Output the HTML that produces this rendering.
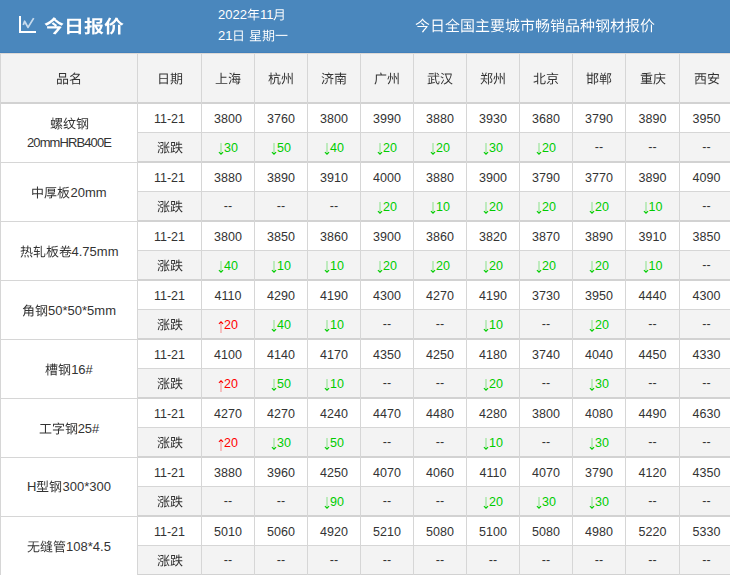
<!DOCTYPE html>
<html><head><meta charset="utf-8"><style>
*{margin:0;padding:0;box-sizing:border-box}
html,body{width:730px;height:575px;overflow:hidden;background:#fff}
body{position:relative;font-family:"Liberation Sans",sans-serif;font-size:13px;color:#333}
.a{position:absolute}
.n{font-size:12.5px;padding-top:2px}
.c{position:absolute;display:flex;align-items:center;justify-content:center;white-space:nowrap;line-height:1}
.hl{position:absolute;height:1px;background:#d6d6d6}
.vl{position:absolute;width:1px;background:#d6d6d6}
.g{color:#00cc00}
.d{padding-bottom:2px}
.ar{display:block;margin-right:0px}
.g .ar{margin-top:2px}
.r .ar{margin-top:3px}
.r{color:#f00}
</style></head><body>

<div class="a" style="left:0;top:0;width:730px;height:53px;background:#4a87bd"></div>
<div class="a" style="left:0;top:52px;width:730px;height:1px;background:#4280bb"></div>
<svg class="a" style="left:15px;top:12px" width="25" height="25" viewBox="0 0 25 25">
<path d="M5 4 V20 H21" fill="none" stroke="#fff" stroke-width="2"/>
<path d="M8.3 13 L9.6 9.3 L13 15.4 L18.7 6.1" fill="none" stroke="#d4e3f2" stroke-width="1.8" stroke-linejoin="round" opacity="0.9"/>
</svg>
<div class="a" style="--gw:20;left:44px;top:16.5px;font-size:18px;letter-spacing:1.7px;font-weight:bold;color:#fff;line-height:18px;white-space:nowrap">今日报价</div>
<div class="a" style="left:218px;top:7px;font-size:13px;color:#fff;line-height:16px;white-space:nowrap">2022年11月</div>
<div class="a" style="left:218px;top:28px;font-size:13px;color:#fff;line-height:16px;white-space:nowrap">21日 星期一</div>
<div class="a" style="left:415px;top:18px;font-size:15px;color:#fff;line-height:16px;white-space:nowrap">今日全国主要城市畅销品种钢材报价</div>
<div class="a" style="left:0;top:53px;width:732px;height:49px;background:#f3f3f3"></div>
<div class="a" style="left:0;top:53px;width:732px;height:1px;background:#dedad6"></div>
<div class="c" style="left:1px;top:54px;width:136px;height:48px">品名</div>
<div class="c" style="left:138px;top:54px;width:63px;height:48px">日期</div>
<div class="c" style="left:202px;top:54px;width:52px;height:48px">上海</div>
<div class="c" style="left:255px;top:54px;width:52px;height:48px">杭州</div>
<div class="c" style="left:308px;top:54px;width:52px;height:48px">济南</div>
<div class="c" style="left:361px;top:54px;width:52px;height:48px">广州</div>
<div class="c" style="left:414px;top:54px;width:52px;height:48px">武汉</div>
<div class="c" style="left:467px;top:54px;width:52px;height:48px">郑州</div>
<div class="c" style="left:520px;top:54px;width:52px;height:48px">北京</div>
<div class="c" style="left:573px;top:54px;width:52px;height:48px">邯郸</div>
<div class="c" style="left:626px;top:54px;width:53px;height:48px">重庆</div>
<div class="c" style="left:680px;top:54px;width:53px;height:48px">西安</div>
<div class="a" style="left:138px;top:133px;width:594px;height:28px;background:#f3f3f3"></div>
<div class="c" style="left:1px;top:104px;width:136px;height:57px;text-align:center;line-height:19px;padding-top:1px"><div>螺纹钢<br><span style="letter-spacing:-0.9px">20mmHRB400E</span></div></div>
<div class="c n" style="left:138px;top:104px;width:63px;height:28px">11-21</div>
<div class="c" style="left:138px;top:133px;width:63px;height:28px">涨跌</div>
<div class="c n" style="left:202px;top:104px;width:52px;height:28px">3800</div>
<div class="c n" style="left:255px;top:104px;width:52px;height:28px">3760</div>
<div class="c n" style="left:308px;top:104px;width:52px;height:28px">3800</div>
<div class="c n" style="left:361px;top:104px;width:52px;height:28px">3990</div>
<div class="c n" style="left:414px;top:104px;width:52px;height:28px">3880</div>
<div class="c n" style="left:467px;top:104px;width:52px;height:28px">3930</div>
<div class="c n" style="left:520px;top:104px;width:52px;height:28px">3680</div>
<div class="c n" style="left:573px;top:104px;width:52px;height:28px">3790</div>
<div class="c n" style="left:626px;top:104px;width:53px;height:28px">3890</div>
<div class="c n" style="left:680px;top:104px;width:53px;height:28px">3950</div>
<div class="c n g" style="left:202px;top:133px;width:52px;height:28px"><svg class="ar" width="6" height="12" viewBox="0 0 6 12"><path d="M3 0V10.8" stroke="currentColor" stroke-width="0.55" fill="none" opacity="0.8"/><path d="M0.9 9.2L3 11.2L5.1 9.2" stroke="currentColor" stroke-width="1.05" fill="none"/></svg>30</div>
<div class="c n g" style="left:255px;top:133px;width:52px;height:28px"><svg class="ar" width="6" height="12" viewBox="0 0 6 12"><path d="M3 0V10.8" stroke="currentColor" stroke-width="0.55" fill="none" opacity="0.8"/><path d="M0.9 9.2L3 11.2L5.1 9.2" stroke="currentColor" stroke-width="1.05" fill="none"/></svg>50</div>
<div class="c n g" style="left:308px;top:133px;width:52px;height:28px"><svg class="ar" width="6" height="12" viewBox="0 0 6 12"><path d="M3 0V10.8" stroke="currentColor" stroke-width="0.55" fill="none" opacity="0.8"/><path d="M0.9 9.2L3 11.2L5.1 9.2" stroke="currentColor" stroke-width="1.05" fill="none"/></svg>40</div>
<div class="c n g" style="left:361px;top:133px;width:52px;height:28px"><svg class="ar" width="6" height="12" viewBox="0 0 6 12"><path d="M3 0V10.8" stroke="currentColor" stroke-width="0.55" fill="none" opacity="0.8"/><path d="M0.9 9.2L3 11.2L5.1 9.2" stroke="currentColor" stroke-width="1.05" fill="none"/></svg>20</div>
<div class="c n g" style="left:414px;top:133px;width:52px;height:28px"><svg class="ar" width="6" height="12" viewBox="0 0 6 12"><path d="M3 0V10.8" stroke="currentColor" stroke-width="0.55" fill="none" opacity="0.8"/><path d="M0.9 9.2L3 11.2L5.1 9.2" stroke="currentColor" stroke-width="1.05" fill="none"/></svg>20</div>
<div class="c n g" style="left:467px;top:133px;width:52px;height:28px"><svg class="ar" width="6" height="12" viewBox="0 0 6 12"><path d="M3 0V10.8" stroke="currentColor" stroke-width="0.55" fill="none" opacity="0.8"/><path d="M0.9 9.2L3 11.2L5.1 9.2" stroke="currentColor" stroke-width="1.05" fill="none"/></svg>30</div>
<div class="c n g" style="left:520px;top:133px;width:52px;height:28px"><svg class="ar" width="6" height="12" viewBox="0 0 6 12"><path d="M3 0V10.8" stroke="currentColor" stroke-width="0.55" fill="none" opacity="0.8"/><path d="M0.9 9.2L3 11.2L5.1 9.2" stroke="currentColor" stroke-width="1.05" fill="none"/></svg>20</div>
<div class="c n d" style="left:573px;top:133px;width:52px;height:28px">--</div>
<div class="c n d" style="left:626px;top:133px;width:53px;height:28px">--</div>
<div class="c n d" style="left:680px;top:133px;width:53px;height:28px">--</div>
<div class="a" style="left:138px;top:192px;width:594px;height:28px;background:#f3f3f3"></div>
<div class="c" style="left:1px;top:164px;width:136px;height:57px">中厚板20mm</div>
<div class="c n" style="left:138px;top:163px;width:63px;height:28px">11-21</div>
<div class="c" style="left:138px;top:192px;width:63px;height:28px">涨跌</div>
<div class="c n" style="left:202px;top:163px;width:52px;height:28px">3880</div>
<div class="c n" style="left:255px;top:163px;width:52px;height:28px">3890</div>
<div class="c n" style="left:308px;top:163px;width:52px;height:28px">3910</div>
<div class="c n" style="left:361px;top:163px;width:52px;height:28px">4000</div>
<div class="c n" style="left:414px;top:163px;width:52px;height:28px">3880</div>
<div class="c n" style="left:467px;top:163px;width:52px;height:28px">3900</div>
<div class="c n" style="left:520px;top:163px;width:52px;height:28px">3790</div>
<div class="c n" style="left:573px;top:163px;width:52px;height:28px">3770</div>
<div class="c n" style="left:626px;top:163px;width:53px;height:28px">3890</div>
<div class="c n" style="left:680px;top:163px;width:53px;height:28px">4090</div>
<div class="c n d" style="left:202px;top:192px;width:52px;height:28px">--</div>
<div class="c n d" style="left:255px;top:192px;width:52px;height:28px">--</div>
<div class="c n d" style="left:308px;top:192px;width:52px;height:28px">--</div>
<div class="c n g" style="left:361px;top:192px;width:52px;height:28px"><svg class="ar" width="6" height="12" viewBox="0 0 6 12"><path d="M3 0V10.8" stroke="currentColor" stroke-width="0.55" fill="none" opacity="0.8"/><path d="M0.9 9.2L3 11.2L5.1 9.2" stroke="currentColor" stroke-width="1.05" fill="none"/></svg>20</div>
<div class="c n g" style="left:414px;top:192px;width:52px;height:28px"><svg class="ar" width="6" height="12" viewBox="0 0 6 12"><path d="M3 0V10.8" stroke="currentColor" stroke-width="0.55" fill="none" opacity="0.8"/><path d="M0.9 9.2L3 11.2L5.1 9.2" stroke="currentColor" stroke-width="1.05" fill="none"/></svg>10</div>
<div class="c n g" style="left:467px;top:192px;width:52px;height:28px"><svg class="ar" width="6" height="12" viewBox="0 0 6 12"><path d="M3 0V10.8" stroke="currentColor" stroke-width="0.55" fill="none" opacity="0.8"/><path d="M0.9 9.2L3 11.2L5.1 9.2" stroke="currentColor" stroke-width="1.05" fill="none"/></svg>20</div>
<div class="c n g" style="left:520px;top:192px;width:52px;height:28px"><svg class="ar" width="6" height="12" viewBox="0 0 6 12"><path d="M3 0V10.8" stroke="currentColor" stroke-width="0.55" fill="none" opacity="0.8"/><path d="M0.9 9.2L3 11.2L5.1 9.2" stroke="currentColor" stroke-width="1.05" fill="none"/></svg>20</div>
<div class="c n g" style="left:573px;top:192px;width:52px;height:28px"><svg class="ar" width="6" height="12" viewBox="0 0 6 12"><path d="M3 0V10.8" stroke="currentColor" stroke-width="0.55" fill="none" opacity="0.8"/><path d="M0.9 9.2L3 11.2L5.1 9.2" stroke="currentColor" stroke-width="1.05" fill="none"/></svg>20</div>
<div class="c n g" style="left:626px;top:192px;width:53px;height:28px"><svg class="ar" width="6" height="12" viewBox="0 0 6 12"><path d="M3 0V10.8" stroke="currentColor" stroke-width="0.55" fill="none" opacity="0.8"/><path d="M0.9 9.2L3 11.2L5.1 9.2" stroke="currentColor" stroke-width="1.05" fill="none"/></svg>10</div>
<div class="c n d" style="left:680px;top:192px;width:53px;height:28px">--</div>
<div class="a" style="left:138px;top:251px;width:594px;height:28px;background:#f3f3f3"></div>
<div class="c" style="left:1px;top:223px;width:136px;height:57px">热轧板卷4.75mm</div>
<div class="c n" style="left:138px;top:222px;width:63px;height:28px">11-21</div>
<div class="c" style="left:138px;top:251px;width:63px;height:28px">涨跌</div>
<div class="c n" style="left:202px;top:222px;width:52px;height:28px">3800</div>
<div class="c n" style="left:255px;top:222px;width:52px;height:28px">3850</div>
<div class="c n" style="left:308px;top:222px;width:52px;height:28px">3860</div>
<div class="c n" style="left:361px;top:222px;width:52px;height:28px">3900</div>
<div class="c n" style="left:414px;top:222px;width:52px;height:28px">3860</div>
<div class="c n" style="left:467px;top:222px;width:52px;height:28px">3820</div>
<div class="c n" style="left:520px;top:222px;width:52px;height:28px">3870</div>
<div class="c n" style="left:573px;top:222px;width:52px;height:28px">3890</div>
<div class="c n" style="left:626px;top:222px;width:53px;height:28px">3910</div>
<div class="c n" style="left:680px;top:222px;width:53px;height:28px">3850</div>
<div class="c n g" style="left:202px;top:251px;width:52px;height:28px"><svg class="ar" width="6" height="12" viewBox="0 0 6 12"><path d="M3 0V10.8" stroke="currentColor" stroke-width="0.55" fill="none" opacity="0.8"/><path d="M0.9 9.2L3 11.2L5.1 9.2" stroke="currentColor" stroke-width="1.05" fill="none"/></svg>40</div>
<div class="c n g" style="left:255px;top:251px;width:52px;height:28px"><svg class="ar" width="6" height="12" viewBox="0 0 6 12"><path d="M3 0V10.8" stroke="currentColor" stroke-width="0.55" fill="none" opacity="0.8"/><path d="M0.9 9.2L3 11.2L5.1 9.2" stroke="currentColor" stroke-width="1.05" fill="none"/></svg>10</div>
<div class="c n g" style="left:308px;top:251px;width:52px;height:28px"><svg class="ar" width="6" height="12" viewBox="0 0 6 12"><path d="M3 0V10.8" stroke="currentColor" stroke-width="0.55" fill="none" opacity="0.8"/><path d="M0.9 9.2L3 11.2L5.1 9.2" stroke="currentColor" stroke-width="1.05" fill="none"/></svg>10</div>
<div class="c n g" style="left:361px;top:251px;width:52px;height:28px"><svg class="ar" width="6" height="12" viewBox="0 0 6 12"><path d="M3 0V10.8" stroke="currentColor" stroke-width="0.55" fill="none" opacity="0.8"/><path d="M0.9 9.2L3 11.2L5.1 9.2" stroke="currentColor" stroke-width="1.05" fill="none"/></svg>20</div>
<div class="c n g" style="left:414px;top:251px;width:52px;height:28px"><svg class="ar" width="6" height="12" viewBox="0 0 6 12"><path d="M3 0V10.8" stroke="currentColor" stroke-width="0.55" fill="none" opacity="0.8"/><path d="M0.9 9.2L3 11.2L5.1 9.2" stroke="currentColor" stroke-width="1.05" fill="none"/></svg>20</div>
<div class="c n g" style="left:467px;top:251px;width:52px;height:28px"><svg class="ar" width="6" height="12" viewBox="0 0 6 12"><path d="M3 0V10.8" stroke="currentColor" stroke-width="0.55" fill="none" opacity="0.8"/><path d="M0.9 9.2L3 11.2L5.1 9.2" stroke="currentColor" stroke-width="1.05" fill="none"/></svg>20</div>
<div class="c n g" style="left:520px;top:251px;width:52px;height:28px"><svg class="ar" width="6" height="12" viewBox="0 0 6 12"><path d="M3 0V10.8" stroke="currentColor" stroke-width="0.55" fill="none" opacity="0.8"/><path d="M0.9 9.2L3 11.2L5.1 9.2" stroke="currentColor" stroke-width="1.05" fill="none"/></svg>20</div>
<div class="c n g" style="left:573px;top:251px;width:52px;height:28px"><svg class="ar" width="6" height="12" viewBox="0 0 6 12"><path d="M3 0V10.8" stroke="currentColor" stroke-width="0.55" fill="none" opacity="0.8"/><path d="M0.9 9.2L3 11.2L5.1 9.2" stroke="currentColor" stroke-width="1.05" fill="none"/></svg>20</div>
<div class="c n g" style="left:626px;top:251px;width:53px;height:28px"><svg class="ar" width="6" height="12" viewBox="0 0 6 12"><path d="M3 0V10.8" stroke="currentColor" stroke-width="0.55" fill="none" opacity="0.8"/><path d="M0.9 9.2L3 11.2L5.1 9.2" stroke="currentColor" stroke-width="1.05" fill="none"/></svg>10</div>
<div class="c n d" style="left:680px;top:251px;width:53px;height:28px">--</div>
<div class="a" style="left:138px;top:310px;width:594px;height:28px;background:#f3f3f3"></div>
<div class="c" style="left:1px;top:282px;width:136px;height:57px">角钢50*50*5mm</div>
<div class="c n" style="left:138px;top:281px;width:63px;height:28px">11-21</div>
<div class="c" style="left:138px;top:310px;width:63px;height:28px">涨跌</div>
<div class="c n" style="left:202px;top:281px;width:52px;height:28px">4110</div>
<div class="c n" style="left:255px;top:281px;width:52px;height:28px">4290</div>
<div class="c n" style="left:308px;top:281px;width:52px;height:28px">4190</div>
<div class="c n" style="left:361px;top:281px;width:52px;height:28px">4300</div>
<div class="c n" style="left:414px;top:281px;width:52px;height:28px">4270</div>
<div class="c n" style="left:467px;top:281px;width:52px;height:28px">4190</div>
<div class="c n" style="left:520px;top:281px;width:52px;height:28px">3730</div>
<div class="c n" style="left:573px;top:281px;width:52px;height:28px">3950</div>
<div class="c n" style="left:626px;top:281px;width:53px;height:28px">4440</div>
<div class="c n" style="left:680px;top:281px;width:53px;height:28px">4300</div>
<div class="c n r" style="left:202px;top:310px;width:52px;height:28px"><svg class="ar" width="6" height="12" viewBox="0 0 6 12"><path d="M3 1.2V12" stroke="currentColor" stroke-width="0.55" fill="none" opacity="0.8"/><path d="M0.9 2.8L3 0.8L5.1 2.8" stroke="currentColor" stroke-width="1.05" fill="none"/></svg>20</div>
<div class="c n g" style="left:255px;top:310px;width:52px;height:28px"><svg class="ar" width="6" height="12" viewBox="0 0 6 12"><path d="M3 0V10.8" stroke="currentColor" stroke-width="0.55" fill="none" opacity="0.8"/><path d="M0.9 9.2L3 11.2L5.1 9.2" stroke="currentColor" stroke-width="1.05" fill="none"/></svg>40</div>
<div class="c n g" style="left:308px;top:310px;width:52px;height:28px"><svg class="ar" width="6" height="12" viewBox="0 0 6 12"><path d="M3 0V10.8" stroke="currentColor" stroke-width="0.55" fill="none" opacity="0.8"/><path d="M0.9 9.2L3 11.2L5.1 9.2" stroke="currentColor" stroke-width="1.05" fill="none"/></svg>10</div>
<div class="c n d" style="left:361px;top:310px;width:52px;height:28px">--</div>
<div class="c n d" style="left:414px;top:310px;width:52px;height:28px">--</div>
<div class="c n g" style="left:467px;top:310px;width:52px;height:28px"><svg class="ar" width="6" height="12" viewBox="0 0 6 12"><path d="M3 0V10.8" stroke="currentColor" stroke-width="0.55" fill="none" opacity="0.8"/><path d="M0.9 9.2L3 11.2L5.1 9.2" stroke="currentColor" stroke-width="1.05" fill="none"/></svg>10</div>
<div class="c n d" style="left:520px;top:310px;width:52px;height:28px">--</div>
<div class="c n g" style="left:573px;top:310px;width:52px;height:28px"><svg class="ar" width="6" height="12" viewBox="0 0 6 12"><path d="M3 0V10.8" stroke="currentColor" stroke-width="0.55" fill="none" opacity="0.8"/><path d="M0.9 9.2L3 11.2L5.1 9.2" stroke="currentColor" stroke-width="1.05" fill="none"/></svg>20</div>
<div class="c n d" style="left:626px;top:310px;width:53px;height:28px">--</div>
<div class="c n d" style="left:680px;top:310px;width:53px;height:28px">--</div>
<div class="a" style="left:138px;top:369px;width:594px;height:28px;background:#f3f3f3"></div>
<div class="c" style="left:1px;top:341px;width:136px;height:57px">槽钢16#</div>
<div class="c n" style="left:138px;top:340px;width:63px;height:28px">11-21</div>
<div class="c" style="left:138px;top:369px;width:63px;height:28px">涨跌</div>
<div class="c n" style="left:202px;top:340px;width:52px;height:28px">4100</div>
<div class="c n" style="left:255px;top:340px;width:52px;height:28px">4140</div>
<div class="c n" style="left:308px;top:340px;width:52px;height:28px">4170</div>
<div class="c n" style="left:361px;top:340px;width:52px;height:28px">4350</div>
<div class="c n" style="left:414px;top:340px;width:52px;height:28px">4250</div>
<div class="c n" style="left:467px;top:340px;width:52px;height:28px">4180</div>
<div class="c n" style="left:520px;top:340px;width:52px;height:28px">3740</div>
<div class="c n" style="left:573px;top:340px;width:52px;height:28px">4040</div>
<div class="c n" style="left:626px;top:340px;width:53px;height:28px">4450</div>
<div class="c n" style="left:680px;top:340px;width:53px;height:28px">4330</div>
<div class="c n r" style="left:202px;top:369px;width:52px;height:28px"><svg class="ar" width="6" height="12" viewBox="0 0 6 12"><path d="M3 1.2V12" stroke="currentColor" stroke-width="0.55" fill="none" opacity="0.8"/><path d="M0.9 2.8L3 0.8L5.1 2.8" stroke="currentColor" stroke-width="1.05" fill="none"/></svg>20</div>
<div class="c n g" style="left:255px;top:369px;width:52px;height:28px"><svg class="ar" width="6" height="12" viewBox="0 0 6 12"><path d="M3 0V10.8" stroke="currentColor" stroke-width="0.55" fill="none" opacity="0.8"/><path d="M0.9 9.2L3 11.2L5.1 9.2" stroke="currentColor" stroke-width="1.05" fill="none"/></svg>50</div>
<div class="c n g" style="left:308px;top:369px;width:52px;height:28px"><svg class="ar" width="6" height="12" viewBox="0 0 6 12"><path d="M3 0V10.8" stroke="currentColor" stroke-width="0.55" fill="none" opacity="0.8"/><path d="M0.9 9.2L3 11.2L5.1 9.2" stroke="currentColor" stroke-width="1.05" fill="none"/></svg>10</div>
<div class="c n d" style="left:361px;top:369px;width:52px;height:28px">--</div>
<div class="c n d" style="left:414px;top:369px;width:52px;height:28px">--</div>
<div class="c n g" style="left:467px;top:369px;width:52px;height:28px"><svg class="ar" width="6" height="12" viewBox="0 0 6 12"><path d="M3 0V10.8" stroke="currentColor" stroke-width="0.55" fill="none" opacity="0.8"/><path d="M0.9 9.2L3 11.2L5.1 9.2" stroke="currentColor" stroke-width="1.05" fill="none"/></svg>20</div>
<div class="c n d" style="left:520px;top:369px;width:52px;height:28px">--</div>
<div class="c n g" style="left:573px;top:369px;width:52px;height:28px"><svg class="ar" width="6" height="12" viewBox="0 0 6 12"><path d="M3 0V10.8" stroke="currentColor" stroke-width="0.55" fill="none" opacity="0.8"/><path d="M0.9 9.2L3 11.2L5.1 9.2" stroke="currentColor" stroke-width="1.05" fill="none"/></svg>30</div>
<div class="c n d" style="left:626px;top:369px;width:53px;height:28px">--</div>
<div class="c n d" style="left:680px;top:369px;width:53px;height:28px">--</div>
<div class="a" style="left:138px;top:428px;width:594px;height:28px;background:#f3f3f3"></div>
<div class="c" style="left:1px;top:400px;width:136px;height:57px">工字钢25#</div>
<div class="c n" style="left:138px;top:399px;width:63px;height:28px">11-21</div>
<div class="c" style="left:138px;top:428px;width:63px;height:28px">涨跌</div>
<div class="c n" style="left:202px;top:399px;width:52px;height:28px">4270</div>
<div class="c n" style="left:255px;top:399px;width:52px;height:28px">4270</div>
<div class="c n" style="left:308px;top:399px;width:52px;height:28px">4240</div>
<div class="c n" style="left:361px;top:399px;width:52px;height:28px">4470</div>
<div class="c n" style="left:414px;top:399px;width:52px;height:28px">4480</div>
<div class="c n" style="left:467px;top:399px;width:52px;height:28px">4280</div>
<div class="c n" style="left:520px;top:399px;width:52px;height:28px">3800</div>
<div class="c n" style="left:573px;top:399px;width:52px;height:28px">4080</div>
<div class="c n" style="left:626px;top:399px;width:53px;height:28px">4490</div>
<div class="c n" style="left:680px;top:399px;width:53px;height:28px">4630</div>
<div class="c n r" style="left:202px;top:428px;width:52px;height:28px"><svg class="ar" width="6" height="12" viewBox="0 0 6 12"><path d="M3 1.2V12" stroke="currentColor" stroke-width="0.55" fill="none" opacity="0.8"/><path d="M0.9 2.8L3 0.8L5.1 2.8" stroke="currentColor" stroke-width="1.05" fill="none"/></svg>20</div>
<div class="c n g" style="left:255px;top:428px;width:52px;height:28px"><svg class="ar" width="6" height="12" viewBox="0 0 6 12"><path d="M3 0V10.8" stroke="currentColor" stroke-width="0.55" fill="none" opacity="0.8"/><path d="M0.9 9.2L3 11.2L5.1 9.2" stroke="currentColor" stroke-width="1.05" fill="none"/></svg>30</div>
<div class="c n g" style="left:308px;top:428px;width:52px;height:28px"><svg class="ar" width="6" height="12" viewBox="0 0 6 12"><path d="M3 0V10.8" stroke="currentColor" stroke-width="0.55" fill="none" opacity="0.8"/><path d="M0.9 9.2L3 11.2L5.1 9.2" stroke="currentColor" stroke-width="1.05" fill="none"/></svg>50</div>
<div class="c n d" style="left:361px;top:428px;width:52px;height:28px">--</div>
<div class="c n d" style="left:414px;top:428px;width:52px;height:28px">--</div>
<div class="c n g" style="left:467px;top:428px;width:52px;height:28px"><svg class="ar" width="6" height="12" viewBox="0 0 6 12"><path d="M3 0V10.8" stroke="currentColor" stroke-width="0.55" fill="none" opacity="0.8"/><path d="M0.9 9.2L3 11.2L5.1 9.2" stroke="currentColor" stroke-width="1.05" fill="none"/></svg>10</div>
<div class="c n d" style="left:520px;top:428px;width:52px;height:28px">--</div>
<div class="c n g" style="left:573px;top:428px;width:52px;height:28px"><svg class="ar" width="6" height="12" viewBox="0 0 6 12"><path d="M3 0V10.8" stroke="currentColor" stroke-width="0.55" fill="none" opacity="0.8"/><path d="M0.9 9.2L3 11.2L5.1 9.2" stroke="currentColor" stroke-width="1.05" fill="none"/></svg>30</div>
<div class="c n d" style="left:626px;top:428px;width:53px;height:28px">--</div>
<div class="c n d" style="left:680px;top:428px;width:53px;height:28px">--</div>
<div class="a" style="left:138px;top:487px;width:594px;height:28px;background:#f3f3f3"></div>
<div class="c" style="left:1px;top:458px;width:136px;height:57px">H型钢300*300</div>
<div class="c n" style="left:138px;top:458px;width:63px;height:28px">11-21</div>
<div class="c" style="left:138px;top:487px;width:63px;height:28px">涨跌</div>
<div class="c n" style="left:202px;top:458px;width:52px;height:28px">3880</div>
<div class="c n" style="left:255px;top:458px;width:52px;height:28px">3960</div>
<div class="c n" style="left:308px;top:458px;width:52px;height:28px">4250</div>
<div class="c n" style="left:361px;top:458px;width:52px;height:28px">4070</div>
<div class="c n" style="left:414px;top:458px;width:52px;height:28px">4060</div>
<div class="c n" style="left:467px;top:458px;width:52px;height:28px">4110</div>
<div class="c n" style="left:520px;top:458px;width:52px;height:28px">4070</div>
<div class="c n" style="left:573px;top:458px;width:52px;height:28px">3790</div>
<div class="c n" style="left:626px;top:458px;width:53px;height:28px">4120</div>
<div class="c n" style="left:680px;top:458px;width:53px;height:28px">4350</div>
<div class="c n d" style="left:202px;top:487px;width:52px;height:28px">--</div>
<div class="c n d" style="left:255px;top:487px;width:52px;height:28px">--</div>
<div class="c n g" style="left:308px;top:487px;width:52px;height:28px"><svg class="ar" width="6" height="12" viewBox="0 0 6 12"><path d="M3 0V10.8" stroke="currentColor" stroke-width="0.55" fill="none" opacity="0.8"/><path d="M0.9 9.2L3 11.2L5.1 9.2" stroke="currentColor" stroke-width="1.05" fill="none"/></svg>90</div>
<div class="c n d" style="left:361px;top:487px;width:52px;height:28px">--</div>
<div class="c n d" style="left:414px;top:487px;width:52px;height:28px">--</div>
<div class="c n g" style="left:467px;top:487px;width:52px;height:28px"><svg class="ar" width="6" height="12" viewBox="0 0 6 12"><path d="M3 0V10.8" stroke="currentColor" stroke-width="0.55" fill="none" opacity="0.8"/><path d="M0.9 9.2L3 11.2L5.1 9.2" stroke="currentColor" stroke-width="1.05" fill="none"/></svg>20</div>
<div class="c n g" style="left:520px;top:487px;width:52px;height:28px"><svg class="ar" width="6" height="12" viewBox="0 0 6 12"><path d="M3 0V10.8" stroke="currentColor" stroke-width="0.55" fill="none" opacity="0.8"/><path d="M0.9 9.2L3 11.2L5.1 9.2" stroke="currentColor" stroke-width="1.05" fill="none"/></svg>30</div>
<div class="c n g" style="left:573px;top:487px;width:52px;height:28px"><svg class="ar" width="6" height="12" viewBox="0 0 6 12"><path d="M3 0V10.8" stroke="currentColor" stroke-width="0.55" fill="none" opacity="0.8"/><path d="M0.9 9.2L3 11.2L5.1 9.2" stroke="currentColor" stroke-width="1.05" fill="none"/></svg>30</div>
<div class="c n d" style="left:626px;top:487px;width:53px;height:28px">--</div>
<div class="c n d" style="left:680px;top:487px;width:53px;height:28px">--</div>
<div class="a" style="left:138px;top:546px;width:594px;height:28px;background:#f3f3f3"></div>
<div class="c" style="left:1px;top:518px;width:136px;height:57px">无缝管108*4.5</div>
<div class="c n" style="left:138px;top:517px;width:63px;height:28px">11-21</div>
<div class="c" style="left:138px;top:546px;width:63px;height:28px">涨跌</div>
<div class="c n" style="left:202px;top:517px;width:52px;height:28px">5010</div>
<div class="c n" style="left:255px;top:517px;width:52px;height:28px">5060</div>
<div class="c n" style="left:308px;top:517px;width:52px;height:28px">4920</div>
<div class="c n" style="left:361px;top:517px;width:52px;height:28px">5210</div>
<div class="c n" style="left:414px;top:517px;width:52px;height:28px">5080</div>
<div class="c n" style="left:467px;top:517px;width:52px;height:28px">5100</div>
<div class="c n" style="left:520px;top:517px;width:52px;height:28px">5080</div>
<div class="c n" style="left:573px;top:517px;width:52px;height:28px">4980</div>
<div class="c n" style="left:626px;top:517px;width:53px;height:28px">5220</div>
<div class="c n" style="left:680px;top:517px;width:53px;height:28px">5330</div>
<div class="c n d" style="left:202px;top:546px;width:52px;height:28px">--</div>
<div class="c n d" style="left:255px;top:546px;width:52px;height:28px">--</div>
<div class="c n d" style="left:308px;top:546px;width:52px;height:28px">--</div>
<div class="c n d" style="left:361px;top:546px;width:52px;height:28px">--</div>
<div class="c n d" style="left:414px;top:546px;width:52px;height:28px">--</div>
<div class="c n d" style="left:467px;top:546px;width:52px;height:28px">--</div>
<div class="c n d" style="left:520px;top:546px;width:52px;height:28px">--</div>
<div class="c n d" style="left:573px;top:546px;width:52px;height:28px">--</div>
<div class="c n d" style="left:626px;top:546px;width:53px;height:28px">--</div>
<div class="c n d" style="left:680px;top:546px;width:53px;height:28px">--</div>
<div class="hl" style="left:0;top:102px;width:732px;height:2px;background:#d2d2d2"></div>
<div class="hl" style="left:138px;top:132px;width:594px"></div>
<div class="hl" style="left:138px;top:161px;width:594px;height:2px;background:#d2d2d2"></div>
<div class="hl" style="left:0;top:162px;width:138px"></div>
<div class="hl" style="left:138px;top:191px;width:594px"></div>
<div class="hl" style="left:138px;top:220px;width:594px;height:2px;background:#d2d2d2"></div>
<div class="hl" style="left:0;top:221px;width:138px"></div>
<div class="hl" style="left:138px;top:250px;width:594px"></div>
<div class="hl" style="left:138px;top:279px;width:594px;height:2px;background:#d2d2d2"></div>
<div class="hl" style="left:0;top:280px;width:138px"></div>
<div class="hl" style="left:138px;top:309px;width:594px"></div>
<div class="hl" style="left:138px;top:338px;width:594px;height:2px;background:#d2d2d2"></div>
<div class="hl" style="left:0;top:339px;width:138px"></div>
<div class="hl" style="left:138px;top:368px;width:594px"></div>
<div class="hl" style="left:138px;top:397px;width:594px;height:2px;background:#d2d2d2"></div>
<div class="hl" style="left:0;top:398px;width:138px"></div>
<div class="hl" style="left:138px;top:427px;width:594px"></div>
<div class="hl" style="left:138px;top:456px;width:594px;height:2px;background:#d2d2d2"></div>
<div class="hl" style="left:0;top:457px;width:138px"></div>
<div class="hl" style="left:138px;top:486px;width:594px"></div>
<div class="hl" style="left:138px;top:515px;width:594px;height:2px;background:#d2d2d2"></div>
<div class="hl" style="left:0;top:516px;width:138px"></div>
<div class="hl" style="left:138px;top:545px;width:594px"></div>
<div class="hl" style="left:138px;top:574px;width:594px;height:2px;background:#d2d2d2"></div>
<div class="vl" style="left:0px;top:54px;height:521px"></div>
<div class="vl" style="left:137px;top:54px;height:521px"></div>
<div class="vl" style="left:201px;top:54px;height:521px"></div>
<div class="vl" style="left:254px;top:54px;height:521px"></div>
<div class="vl" style="left:307px;top:54px;height:521px"></div>
<div class="vl" style="left:360px;top:54px;height:521px"></div>
<div class="vl" style="left:413px;top:54px;height:521px"></div>
<div class="vl" style="left:466px;top:54px;height:521px"></div>
<div class="vl" style="left:519px;top:54px;height:521px"></div>
<div class="vl" style="left:572px;top:54px;height:521px"></div>
<div class="vl" style="left:625px;top:54px;height:521px"></div>
<div class="vl" style="left:679px;top:54px;height:521px"></div>
<script>
var G={"r":{"一":"M44 -431V-349H960V-431Z","上":"M427 -825V-43H51V32H950V-43H506V-441H881V-516H506V-825Z","中":"M458 -840V-661H96V-186H171V-248H458V79H537V-248H825V-191H902V-661H537V-840ZM171 -322V-588H458V-322ZM825 -322H537V-588H825Z","主":"M374 -795C435 -750 505 -686 545 -640H103V-567H459V-347H149V-274H459V-27H56V46H948V-27H540V-274H856V-347H540V-567H897V-640H572L620 -675C580 -722 499 -790 435 -836Z","京":"M262 -495H743V-334H262ZM685 -167C751 -100 832 -5 869 52L934 8C894 -49 811 -139 746 -205ZM235 -204C196 -136 119 -52 52 2C68 13 94 34 107 49C178 -10 257 -99 308 -177ZM415 -824C436 -791 459 -751 476 -716H65V-642H937V-716H564C547 -753 514 -808 487 -848ZM188 -561V-267H464V-8C464 6 460 10 441 11C423 11 361 12 292 10C303 31 313 60 318 81C406 82 463 82 498 70C533 59 543 38 543 -7V-267H822V-561Z","今":"M390 -533C456 -484 541 -412 580 -367L635 -420C593 -464 506 -532 441 -579ZM161 -348V-272H722C650 -179 547 -51 461 48L538 83C644 -46 776 -212 859 -324L801 -352L787 -348ZM495 -847C394 -695 216 -556 35 -475C57 -457 80 -429 92 -408C244 -485 394 -599 503 -729C612 -605 774 -481 906 -415C920 -435 945 -466 965 -482C823 -544 649 -668 548 -786L567 -813Z","价":"M723 -451V78H800V-451ZM440 -450V-313C440 -218 429 -65 284 36C302 48 327 71 339 88C497 -30 515 -197 515 -312V-450ZM597 -842C547 -715 435 -565 257 -464C274 -451 295 -423 304 -406C447 -490 549 -602 618 -716C697 -596 810 -483 918 -419C930 -438 953 -465 970 -479C853 -541 727 -663 655 -784L676 -829ZM268 -839C216 -688 130 -538 37 -440C51 -423 73 -384 81 -366C110 -398 139 -435 166 -475V80H241V-599C279 -669 313 -744 340 -818Z","全":"M493 -851C392 -692 209 -545 26 -462C45 -446 67 -421 78 -401C118 -421 158 -444 197 -469V-404H461V-248H203V-181H461V-16H76V52H929V-16H539V-181H809V-248H539V-404H809V-470C847 -444 885 -420 925 -397C936 -419 958 -445 977 -460C814 -546 666 -650 542 -794L559 -820ZM200 -471C313 -544 418 -637 500 -739C595 -630 696 -546 807 -471Z","北":"M34 -122 68 -48C141 -78 232 -116 322 -155V71H398V-822H322V-586H64V-511H322V-230C214 -189 107 -147 34 -122ZM891 -668C830 -611 736 -544 643 -488V-821H565V-80C565 27 593 57 687 57C707 57 827 57 848 57C946 57 966 -8 974 -190C953 -195 922 -210 903 -226C896 -60 889 -16 842 -16C816 -16 716 -16 695 -16C651 -16 643 -26 643 -79V-410C749 -469 863 -537 947 -602Z","南":"M317 -460C342 -423 368 -373 377 -339L440 -361C429 -394 403 -444 376 -479ZM458 -840V-740H60V-669H458V-563H114V79H190V-494H812V-8C812 8 807 13 789 14C772 15 710 16 647 13C658 32 669 60 673 80C755 80 812 80 845 68C878 57 888 37 888 -8V-563H541V-669H941V-740H541V-840ZM622 -481C607 -440 576 -379 553 -338H266V-277H461V-176H245V-113H461V61H533V-113H758V-176H533V-277H740V-338H618C641 -374 665 -418 687 -461Z","卷":"M301 -324H281C318 -356 352 -391 381 -427H609C635 -390 666 -355 702 -324ZM732 -815C710 -773 672 -711 639 -669H517C537 -724 551 -780 560 -835L482 -843C474 -786 459 -727 437 -669H311L357 -696C340 -730 301 -781 268 -818L210 -786C240 -751 274 -703 291 -669H124V-603H407C389 -566 366 -530 340 -495H62V-427H282C217 -360 135 -301 34 -257C51 -243 73 -215 81 -196C147 -227 205 -263 256 -303V-44C256 46 293 67 421 67C449 67 670 67 700 67C811 67 837 34 848 -97C828 -102 797 -113 779 -125C772 -18 762 -1 697 -1C647 -1 459 -1 422 -1C343 -1 329 -8 329 -45V-258H631C625 -194 618 -165 608 -155C600 -149 592 -148 574 -148C558 -148 508 -148 457 -152C468 -136 474 -111 476 -93C530 -90 582 -90 608 -91C635 -93 654 -98 670 -114C690 -134 699 -183 707 -295L709 -318C772 -264 847 -221 925 -194C936 -214 958 -242 975 -257C865 -287 763 -350 694 -427H941V-495H431C453 -530 473 -566 490 -603H872V-669H715C744 -706 775 -750 801 -792Z","厚":"M368 -500H771V-434H368ZM368 -614H771V-549H368ZM296 -665V-382H844V-665ZM542 -211V-161H212V-101H542V-5C542 8 538 12 521 13C505 14 445 14 381 12C391 30 402 54 407 74C489 74 541 74 573 64C605 54 615 36 615 -3V-101H956V-161H615V-181C701 -207 792 -246 858 -289L812 -329L796 -325H293V-270H703C654 -247 595 -225 542 -211ZM132 -788V-493C132 -336 123 -116 34 40C53 47 85 66 99 78C192 -85 206 -327 206 -493V-718H943V-788Z","名":"M263 -529C314 -494 373 -446 417 -406C300 -344 171 -299 47 -273C61 -256 79 -224 86 -204C141 -217 197 -233 252 -253V79H327V27H773V79H849V-340H451C617 -429 762 -553 844 -713L794 -744L781 -740H427C451 -768 473 -797 492 -826L406 -843C347 -747 233 -636 69 -559C87 -546 111 -519 122 -501C217 -550 296 -609 361 -671H733C674 -583 587 -508 487 -445C440 -486 374 -536 321 -572ZM773 -42H327V-271H773Z","品":"M302 -726H701V-536H302ZM229 -797V-464H778V-797ZM83 -357V80H155V26H364V71H439V-357ZM155 -47V-286H364V-47ZM549 -357V80H621V26H849V74H925V-357ZM621 -47V-286H849V-47Z","国":"M592 -320C629 -286 671 -238 691 -206L743 -237C722 -268 679 -315 641 -347ZM228 -196V-132H777V-196H530V-365H732V-430H530V-573H756V-640H242V-573H459V-430H270V-365H459V-196ZM86 -795V80H162V30H835V80H914V-795ZM162 -40V-725H835V-40Z","型":"M635 -783V-448H704V-783ZM822 -834V-387C822 -374 818 -370 802 -369C787 -368 737 -368 680 -370C691 -350 701 -321 705 -301C776 -301 825 -302 855 -314C885 -325 893 -344 893 -386V-834ZM388 -733V-595H264V-601V-733ZM67 -595V-528H189C178 -461 145 -393 59 -340C73 -330 98 -302 108 -288C210 -351 248 -441 259 -528H388V-313H459V-528H573V-595H459V-733H552V-799H100V-733H195V-602V-595ZM467 -332V-221H151V-152H467V-25H47V45H952V-25H544V-152H848V-221H544V-332Z","城":"M41 -129 65 -55C145 -86 244 -125 340 -164L326 -232L229 -196V-526H325V-596H229V-828H159V-596H53V-526H159V-170C115 -154 74 -140 41 -129ZM866 -506C844 -414 814 -329 775 -255C759 -354 747 -478 742 -617H953V-687H880L930 -722C905 -754 853 -802 809 -834L759 -801C801 -768 850 -720 874 -687H740C739 -737 739 -788 739 -841H667L670 -687H366V-375C366 -245 356 -80 256 36C272 45 300 69 311 83C420 -42 436 -233 436 -375V-419H562C560 -238 556 -174 546 -158C540 -150 532 -148 520 -148C507 -148 476 -148 442 -151C452 -135 458 -107 460 -88C495 -86 530 -86 550 -88C574 -91 588 -98 602 -115C620 -141 624 -222 627 -453C628 -462 628 -482 628 -482H436V-617H672C680 -443 694 -285 721 -165C667 -89 601 -25 521 24C537 36 564 63 575 76C639 33 695 -20 743 -81C774 14 816 70 872 70C937 70 959 23 970 -128C953 -135 929 -150 914 -166C910 -51 901 -2 881 -2C848 -2 818 -57 795 -153C856 -249 902 -362 935 -493Z","字":"M460 -363V-300H69V-228H460V-14C460 0 455 5 437 6C419 6 354 6 287 4C300 24 314 58 319 79C404 79 457 78 492 67C528 54 539 32 539 -12V-228H930V-300H539V-337C627 -384 717 -452 779 -516L728 -555L711 -551H233V-480H635C584 -436 519 -392 460 -363ZM424 -824C443 -798 462 -765 475 -736H80V-529H154V-664H843V-529H920V-736H563C549 -769 523 -814 497 -847Z","安":"M414 -823C430 -793 447 -756 461 -725H93V-522H168V-654H829V-522H908V-725H549C534 -758 510 -806 491 -842ZM656 -378C625 -297 581 -232 524 -178C452 -207 379 -233 310 -256C335 -292 362 -334 389 -378ZM299 -378C263 -320 225 -266 193 -223C276 -195 367 -162 456 -125C359 -60 234 -18 82 9C98 25 121 59 130 77C293 42 429 -10 536 -91C662 -36 778 23 852 73L914 8C837 -41 723 -96 599 -148C660 -209 707 -285 742 -378H935V-449H430C457 -499 482 -549 502 -596L421 -612C401 -561 372 -505 341 -449H69V-378Z","州":"M236 -823V-513C236 -329 219 -129 56 21C73 34 99 61 110 78C290 -86 311 -307 311 -513V-823ZM522 -801V11H596V-801ZM820 -826V68H895V-826ZM124 -593C108 -506 75 -398 29 -329L94 -301C139 -371 169 -486 188 -575ZM335 -554C370 -472 402 -365 411 -300L477 -328C467 -392 433 -496 397 -577ZM618 -558C664 -479 710 -373 727 -308L790 -341C773 -406 724 -509 676 -586Z","工":"M52 -72V3H951V-72H539V-650H900V-727H104V-650H456V-72Z","市":"M413 -825C437 -785 464 -732 480 -693H51V-620H458V-484H148V-36H223V-411H458V78H535V-411H785V-132C785 -118 780 -113 762 -112C745 -111 684 -111 616 -114C627 -92 639 -62 642 -40C728 -40 784 -40 819 -53C852 -65 862 -88 862 -131V-484H535V-620H951V-693H550L565 -698C550 -738 515 -801 486 -848Z","年":"M48 -223V-151H512V80H589V-151H954V-223H589V-422H884V-493H589V-647H907V-719H307C324 -753 339 -788 353 -824L277 -844C229 -708 146 -578 50 -496C69 -485 101 -460 115 -448C169 -500 222 -569 268 -647H512V-493H213V-223ZM288 -223V-422H512V-223Z","广":"M469 -825C486 -783 507 -728 517 -688H143V-401C143 -266 133 -90 39 36C56 46 88 75 100 90C205 -46 222 -253 222 -401V-615H942V-688H565L601 -697C590 -735 567 -795 546 -841Z","庆":"M457 -815C481 -785 504 -749 521 -716H116V-446C116 -304 109 -104 28 36C46 44 80 65 93 78C178 -71 191 -294 191 -446V-644H952V-716H606C589 -755 556 -804 524 -842ZM546 -612C542 -560 538 -505 530 -448H247V-378H518C484 -221 406 -67 205 19C224 33 246 60 256 77C437 -6 525 -140 571 -286C650 -128 768 3 908 74C921 53 945 24 963 8C807 -60 676 -209 607 -378H933V-448H607C615 -504 620 -559 624 -612Z","报":"M423 -806V78H498V-395H528C566 -290 618 -193 683 -111C633 -55 573 -8 503 27C521 41 543 65 554 82C622 46 681 -1 732 -56C785 0 845 45 911 77C923 58 946 28 963 14C896 -15 834 -59 780 -113C852 -210 902 -326 928 -450L879 -466L865 -464H498V-736H817C813 -646 807 -607 795 -594C786 -587 775 -586 753 -586C733 -586 668 -587 602 -592C613 -575 622 -549 623 -530C690 -526 753 -525 785 -527C818 -529 840 -535 858 -553C880 -576 889 -633 895 -774C896 -785 896 -806 896 -806ZM599 -395H838C815 -315 779 -237 730 -169C675 -236 631 -313 599 -395ZM189 -840V-638H47V-565H189V-352L32 -311L52 -234L189 -274V-13C189 4 183 8 166 9C152 9 100 10 44 8C55 29 65 60 68 80C148 80 195 78 224 66C253 54 265 33 265 -14V-297L386 -333L377 -405L265 -373V-565H379V-638H265V-840Z","无":"M114 -773V-699H446C443 -628 440 -552 428 -477H52V-404H414C373 -232 276 -71 39 19C58 34 80 61 90 80C348 -23 448 -208 490 -404H511V-60C511 31 539 57 643 57C664 57 807 57 830 57C926 57 950 15 960 -145C938 -150 905 -163 887 -177C882 -40 874 -17 825 -17C794 -17 674 -17 650 -17C599 -17 589 -24 589 -60V-404H951V-477H503C514 -552 519 -627 521 -699H894V-773Z","日":"M253 -352H752V-71H253ZM253 -426V-697H752V-426ZM176 -772V69H253V4H752V64H832V-772Z","星":"M242 -594H758V-504H242ZM242 -739H758V-651H242ZM169 -799V-444H835V-799ZM233 -443C193 -355 123 -268 50 -212C68 -201 99 -179 113 -165C148 -195 184 -234 217 -277H462V-182H182V-121H462V-12H65V54H937V-12H540V-121H832V-182H540V-277H874V-341H540V-422H462V-341H262C279 -367 294 -395 307 -422Z","月":"M207 -787V-479C207 -318 191 -115 29 27C46 37 75 65 86 81C184 -5 234 -118 259 -232H742V-32C742 -10 735 -3 711 -2C688 -1 607 0 524 -3C537 18 551 53 556 76C663 76 730 75 769 61C806 48 821 23 821 -31V-787ZM283 -714H742V-546H283ZM283 -475H742V-305H272C280 -364 283 -422 283 -475Z","期":"M178 -143C148 -76 95 -9 39 36C57 47 87 68 101 80C155 30 213 -47 249 -123ZM321 -112C360 -65 406 1 424 42L486 6C465 -35 419 -97 379 -143ZM855 -722V-561H650V-722ZM580 -790V-427C580 -283 572 -92 488 41C505 49 536 71 548 84C608 -11 634 -139 644 -260H855V-17C855 -1 849 3 835 4C820 5 769 5 716 3C726 23 737 56 740 76C813 76 861 75 889 62C918 50 927 27 927 -16V-790ZM855 -494V-328H648C650 -363 650 -396 650 -427V-494ZM387 -828V-707H205V-828H137V-707H52V-640H137V-231H38V-164H531V-231H457V-640H531V-707H457V-828ZM205 -640H387V-551H205ZM205 -491H387V-393H205ZM205 -332H387V-231H205Z","材":"M777 -839V-625H477V-553H752C676 -395 545 -227 419 -141C437 -126 460 -99 472 -79C583 -164 697 -306 777 -449V-22C777 -4 770 2 752 2C733 3 668 4 604 2C614 23 626 58 630 79C716 79 775 77 808 64C842 52 855 30 855 -23V-553H959V-625H855V-839ZM227 -840V-626H60V-553H217C178 -414 102 -259 26 -175C39 -156 59 -125 68 -103C127 -173 184 -287 227 -405V79H302V-437C344 -383 396 -312 418 -275L466 -339C441 -370 338 -490 302 -527V-553H440V-626H302V-840Z","杭":"M402 -663V-592H948V-663ZM560 -827C586 -779 615 -714 629 -672L702 -698C687 -738 657 -801 629 -849ZM199 -842V-629H52V-558H192C160 -427 96 -278 32 -201C45 -182 63 -151 70 -130C118 -193 164 -297 199 -405V77H268V-421C302 -368 341 -302 359 -266L405 -329C385 -360 297 -484 268 -519V-558H372V-629H268V-842ZM479 -491V-307C479 -198 460 -65 315 30C330 41 356 71 365 87C523 -17 553 -179 553 -306V-421H741V-49C741 21 747 38 762 52C777 66 801 72 821 72C833 72 860 72 874 72C894 72 915 68 928 59C942 49 951 35 957 11C962 -12 966 -77 966 -130C947 -137 923 -149 908 -162C908 -102 907 -56 905 -35C903 -15 899 -5 894 -1C889 3 879 5 870 5C861 5 847 5 840 5C832 5 826 4 821 0C816 -5 814 -19 814 -46V-491Z","板":"M197 -840V-647H58V-577H191C159 -439 97 -278 32 -197C45 -179 63 -145 71 -125C117 -193 163 -305 197 -421V79H267V-456C294 -405 326 -342 339 -309L385 -366C368 -396 292 -512 267 -546V-577H387V-647H267V-840ZM879 -821C778 -779 585 -755 428 -746V-502C428 -343 418 -118 306 40C323 48 354 70 368 82C477 -75 499 -309 501 -476H531C561 -351 604 -238 664 -144C600 -70 524 -16 440 19C456 33 476 62 486 80C569 41 644 -12 708 -82C764 -11 833 45 915 82C927 62 950 32 967 18C883 -15 813 -70 756 -141C829 -241 883 -370 911 -533L864 -547L851 -544H501V-685C651 -695 823 -718 929 -761ZM827 -476C802 -370 762 -280 710 -204C661 -283 624 -376 598 -476Z","槽":"M459 -452H554V-375H459ZM612 -452H708V-375H612ZM765 -452H866V-375H765ZM459 -579H554V-504H459ZM612 -579H708V-504H612ZM765 -579H866V-504H765ZM707 -840V-757H613V-840H547V-757H361V-696H547V-633H396V-320H931V-633H773V-696H961V-757H773V-840ZM613 -633V-696H707V-633ZM507 -86H818V-9H507ZM507 -141V-215H818V-141ZM436 -274V83H507V49H818V79H891V-274ZM186 -840V-623H52V-553H179C151 -417 91 -259 31 -175C43 -158 61 -129 69 -110C113 -174 154 -277 186 -384V79H254V-391C283 -341 317 -279 330 -247L371 -302C354 -329 280 -442 254 -476V-553H365V-623H254V-840Z","武":"M721 -782C777 -739 841 -676 871 -635L926 -679C895 -721 830 -781 774 -821ZM135 -780V-712H517V-780ZM597 -835C597 -753 599 -673 603 -596H54V-526H608C632 -178 702 81 851 82C925 82 952 31 964 -142C945 -150 917 -166 901 -182C896 -48 884 8 858 8C767 8 704 -210 682 -526H946V-596H678C674 -671 672 -752 673 -835ZM134 -415V-23L42 -9L62 65C204 40 409 2 600 -34L594 -104L394 -68V-283H566V-351H394V-491H321V-55L203 -35V-415Z","汉":"M91 -771C158 -741 240 -692 280 -657L319 -716C278 -751 195 -796 130 -824ZM42 -499C107 -470 188 -422 229 -388L266 -449C224 -482 142 -526 78 -552ZM71 16 129 65C189 -27 258 -153 311 -258L260 -306C202 -193 124 -61 71 16ZM361 -764V-693H407L402 -692C446 -500 509 -332 600 -198C510 -97 402 -26 283 17C298 32 316 60 326 79C446 31 554 -39 645 -138C719 -46 810 26 920 76C932 58 954 30 971 16C859 -30 767 -103 693 -195C797 -331 873 -512 909 -751L861 -767L849 -764ZM474 -693H828C794 -514 731 -370 648 -257C567 -379 511 -528 474 -693Z","济":"M737 -330V69H810V-330ZM442 -328V-225C442 -148 418 -47 259 21C275 32 300 54 313 68C484 -7 514 -127 514 -224V-328ZM89 -772C142 -740 210 -690 242 -657L293 -713C258 -745 190 -791 137 -821ZM40 -509C94 -475 163 -425 196 -391L246 -446C212 -479 142 -527 88 -557ZM62 14 129 61C177 -30 231 -153 273 -257L213 -303C168 -192 106 -62 62 14ZM541 -823C557 -794 573 -757 585 -725H311V-657H421C457 -577 506 -513 569 -463C493 -422 398 -396 288 -380C301 -363 318 -330 324 -313C444 -336 547 -369 631 -421C712 -373 811 -342 929 -324C939 -346 959 -376 975 -392C865 -405 771 -429 694 -467C751 -516 795 -578 824 -657H951V-725H664C652 -760 630 -807 609 -843ZM745 -657C721 -593 682 -543 631 -503C571 -543 526 -594 493 -657Z","海":"M95 -775C155 -746 231 -701 268 -668L312 -725C274 -757 198 -801 138 -826ZM42 -484C99 -456 171 -411 206 -379L249 -437C212 -468 141 -510 83 -536ZM72 22 137 63C180 -31 231 -157 268 -263L210 -304C169 -189 112 -57 72 22ZM557 -469C599 -437 646 -390 668 -356H458L475 -497H821L814 -356H672L713 -386C691 -418 641 -465 600 -497ZM285 -356V-287H378C366 -204 353 -126 341 -67H786C780 -34 772 -14 763 -5C754 7 744 10 726 10C707 10 660 9 608 4C620 22 627 50 629 69C677 72 727 73 755 70C785 67 806 60 826 34C839 17 850 -13 859 -67H935V-132H868C872 -174 876 -225 880 -287H963V-356H884L892 -526C892 -537 893 -562 893 -562H412C406 -500 397 -428 387 -356ZM448 -287H810C806 -223 802 -172 797 -132H426ZM532 -257C575 -220 627 -167 651 -132L696 -164C672 -199 620 -250 575 -284ZM442 -841C406 -724 344 -607 273 -532C291 -522 324 -502 338 -490C376 -535 413 -593 446 -658H938V-727H479C492 -758 504 -790 515 -822Z","涨":"M67 -778C115 -740 172 -685 198 -648L249 -694C222 -729 164 -782 116 -818ZM33 -507C81 -470 138 -417 166 -382L216 -429C187 -464 128 -514 81 -549ZM55 33 121 66C152 -26 187 -148 212 -252L153 -286C125 -174 85 -46 55 33ZM865 -814C819 -703 743 -596 661 -527C676 -515 702 -489 712 -477C796 -554 879 -672 931 -795ZM270 -578C266 -482 257 -356 247 -278H416C407 -93 396 -22 379 -4C371 5 363 8 346 7C331 7 291 7 247 3C258 22 264 50 266 71C310 74 354 74 377 71C404 69 420 62 436 43C462 14 474 -75 486 -312C487 -322 487 -343 487 -343H318C322 -394 327 -453 330 -509H488V-803H257V-735H425V-578ZM564 81C579 68 606 55 788 -18C785 -32 781 -61 781 -81L645 -32V-385H712C749 -194 816 -28 921 65C931 47 954 23 969 10C874 -66 810 -217 775 -385H961V-454H645V-828H576V-454H494V-385H576V-49C576 -9 550 9 533 18C544 33 559 63 564 81Z","热":"M343 -111C355 -51 363 27 363 74L437 63C436 17 425 -59 412 -118ZM549 -113C575 -54 600 24 610 72L684 56C674 9 646 -68 619 -126ZM756 -118C806 -56 863 30 887 84L958 51C931 -2 872 -86 822 -146ZM174 -140C141 -71 88 6 43 53L113 82C159 30 210 -51 244 -121ZM216 -839V-700H66V-630H216V-476L46 -432L64 -360L216 -403V-251C216 -239 211 -235 198 -235C186 -235 144 -234 98 -235C108 -216 117 -188 120 -168C185 -168 226 -169 251 -181C277 -192 286 -212 286 -251V-423L414 -459L405 -527L286 -495V-630H403V-700H286V-839ZM566 -841 564 -696H428V-631H561C558 -565 552 -507 541 -457L458 -506L421 -454C453 -436 487 -414 522 -392C494 -317 447 -261 368 -219C384 -207 406 -181 416 -165C499 -211 551 -272 583 -352C630 -320 673 -288 701 -264L740 -323C708 -350 658 -384 604 -418C620 -479 628 -549 632 -631H767C764 -335 763 -160 882 -161C940 -161 963 -193 972 -308C954 -313 928 -325 913 -337C910 -255 902 -227 885 -227C831 -227 831 -382 839 -696H635L638 -841Z","畅":"M200 -838V-704H62V-191H120V-241H200V78H269V-241H412V-704H269V-838ZM351 -446V-307H264V-446ZM351 -507H264V-638H351ZM120 -446H205V-307H120ZM120 -507V-638H205V-507ZM466 -435C475 -443 506 -448 548 -448H588C549 -338 483 -243 397 -182C413 -172 441 -151 453 -140C541 -211 617 -319 659 -448H751C692 -236 589 -68 430 36C446 46 476 66 488 78C646 -37 756 -215 820 -448H868C851 -152 829 -40 803 -11C794 1 786 4 770 3C753 3 719 3 681 -1C692 18 700 49 701 70C741 72 779 73 803 70C831 67 849 59 868 35C903 -6 924 -130 944 -481C946 -493 947 -518 947 -518H596C693 -582 793 -665 894 -759L838 -801L819 -793H441V-723H745C661 -645 568 -577 536 -557C498 -532 460 -510 434 -506C445 -488 461 -452 466 -435Z","种":"M653 -556V-318H512V-556ZM728 -556H866V-318H728ZM653 -838V-629H441V-184H512V-245H653V78H728V-245H866V-190H939V-629H728V-838ZM367 -826C291 -793 159 -763 46 -745C55 -729 65 -704 68 -687C112 -693 160 -700 207 -710V-558H46V-488H196C156 -373 86 -243 23 -172C35 -154 53 -124 60 -103C112 -165 166 -265 207 -367V78H280V-384C313 -335 354 -272 370 -241L415 -299C396 -326 308 -435 280 -466V-488H408V-558H280V-725C329 -737 374 -751 412 -766Z","管":"M211 -438V81H287V47H771V79H845V-168H287V-237H792V-438ZM771 -12H287V-109H771ZM440 -623C451 -603 462 -580 471 -559H101V-394H174V-500H839V-394H915V-559H548C539 -584 522 -614 507 -637ZM287 -380H719V-294H287ZM167 -844C142 -757 98 -672 43 -616C62 -607 93 -590 108 -580C137 -613 164 -656 189 -703H258C280 -666 302 -621 311 -592L375 -614C367 -638 350 -672 331 -703H484V-758H214C224 -782 233 -806 240 -830ZM590 -842C572 -769 537 -699 492 -651C510 -642 541 -626 554 -616C575 -640 595 -669 612 -702H683C713 -665 742 -618 755 -589L816 -616C805 -640 784 -672 761 -702H940V-758H638C648 -781 656 -805 663 -829Z","纹":"M45 -57 60 14C151 -12 272 -46 387 -79L377 -141C254 -109 129 -76 45 -57ZM60 -423C75 -430 98 -436 223 -453C178 -385 135 -330 116 -310C87 -274 64 -251 43 -247C51 -229 62 -196 65 -181C86 -193 119 -203 370 -253C369 -269 369 -298 371 -317L171 -281C245 -366 317 -470 378 -574L317 -610C301 -578 283 -547 264 -516L133 -502C194 -589 253 -700 297 -807L226 -839C187 -719 115 -589 92 -555C71 -521 54 -498 36 -494C45 -474 57 -438 60 -423ZM789 -573C766 -427 729 -311 667 -220C602 -316 560 -435 533 -573ZM568 -816C608 -763 651 -691 671 -645H381V-573H461C494 -407 543 -269 619 -160C548 -82 452 -26 324 13C340 29 365 60 373 76C496 32 591 -26 665 -103C732 -26 818 31 927 70C938 50 959 21 976 6C866 -28 780 -84 713 -160C790 -264 837 -398 865 -573H958V-645H679L738 -670C718 -717 672 -788 631 -841Z","缝":"M340 -782C368 -717 400 -627 415 -575L476 -600C460 -651 426 -737 398 -802ZM41 -58 58 14C142 -14 251 -48 355 -82L343 -142C231 -110 117 -77 41 -58ZM548 -297V-246H692V-182H510V-127H692V-36H761V-127H930V-182H761V-246H888V-297H761V-355H912V-408H761V-464H692V-408H528V-355H692V-297ZM653 -705H818C795 -665 763 -630 726 -599C692 -627 663 -658 641 -691ZM667 -844C632 -765 567 -693 496 -646C509 -634 531 -607 540 -594C562 -610 583 -629 604 -650C625 -620 651 -591 680 -564C622 -527 557 -499 491 -483C504 -469 520 -445 528 -428C600 -449 669 -480 731 -523C785 -484 847 -454 912 -435C921 -452 939 -477 954 -491C892 -505 832 -529 780 -561C835 -610 881 -670 909 -744L866 -763L854 -761H693C706 -782 718 -804 728 -826ZM476 -480H322V-416H411V-91C376 -74 337 -36 299 11L341 73C379 14 419 -39 446 -39C464 -39 490 -12 523 13C575 49 634 62 720 62C779 62 890 58 944 55C946 36 954 1 961 -16C892 -8 787 -4 721 -4C642 -4 583 -13 536 -46C510 -64 493 -81 476 -91ZM58 -422C72 -429 93 -434 197 -448C160 -386 126 -336 110 -316C83 -279 62 -254 42 -250C50 -232 62 -198 65 -184C84 -195 116 -204 338 -249C337 -265 337 -292 339 -311L160 -278C228 -368 295 -480 350 -589L287 -623C271 -586 253 -549 233 -513L128 -502C182 -590 236 -703 274 -810L202 -840C169 -720 106 -589 86 -555C67 -520 51 -497 33 -493C42 -473 54 -437 58 -422Z","螺":"M764 -108C809 -59 862 11 887 54L941 18C916 -24 861 -90 815 -139ZM289 -225C303 -192 317 -154 328 -116L257 -102V-294H375V-658H257V-836H194V-658H73V-246H130V-294H194V-89L41 -61L54 11L345 -51C350 -30 353 -12 355 5L410 -13C400 -75 373 -168 341 -241ZM130 -595H201V-357H130ZM250 -595H317V-357H250ZM503 -134C479 -94 445 -50 410 -13L377 20C393 29 420 48 433 58C477 14 530 -55 567 -114ZM491 -608H632V-527H491ZM698 -608H840V-527H698ZM491 -742H632V-662H491ZM698 -742H840V-662H698ZM421 -146C440 -153 469 -158 644 -172V2C644 13 641 15 628 16C616 17 576 17 531 15C540 33 549 59 552 77C615 77 655 78 681 68C708 57 714 39 714 4V-177L865 -189C881 -166 894 -144 904 -127L957 -160C931 -207 875 -280 827 -334L776 -305C792 -286 809 -265 826 -243L557 -225C648 -276 741 -340 829 -413L770 -450C744 -426 716 -403 688 -381L554 -377C590 -404 627 -436 660 -470H909V-798H425V-470H572C537 -433 499 -403 484 -394C466 -381 450 -373 435 -371C442 -354 453 -321 456 -307C470 -312 492 -316 606 -322C556 -287 513 -261 493 -250C454 -228 425 -214 401 -210C408 -192 418 -159 421 -146Z","西":"M59 -775V-702H356V-557H113V76H186V14H819V73H894V-557H641V-702H939V-775ZM186 -56V-244C199 -233 222 -205 230 -190C380 -265 418 -381 423 -488H568V-330C568 -249 588 -228 670 -228C687 -228 788 -228 806 -228H819V-56ZM186 -246V-488H355C350 -400 319 -310 186 -246ZM424 -557V-702H568V-557ZM641 -488H819V-301C817 -299 811 -299 799 -299C778 -299 694 -299 679 -299C644 -299 641 -303 641 -330Z","要":"M672 -232C639 -174 593 -129 532 -93C459 -111 384 -127 310 -141C331 -168 355 -199 378 -232ZM119 -645V-386H386C372 -358 355 -328 336 -298H54V-232H291C256 -183 219 -137 186 -101C271 -85 354 -68 433 -49C335 -15 211 4 59 13C72 30 84 57 90 78C279 62 428 33 541 -22C668 12 778 47 860 80L924 22C844 -8 739 -40 623 -71C680 -113 724 -166 755 -232H947V-298H422C438 -324 453 -350 466 -375L420 -386H888V-645H647V-730H930V-797H69V-730H342V-645ZM413 -730H576V-645H413ZM190 -583H342V-447H190ZM413 -583H576V-447H413ZM647 -583H814V-447H647Z","角":"M266 -540H486V-414H266ZM266 -608H263C293 -641 321 -676 346 -710H628C605 -675 576 -638 547 -608ZM799 -540V-414H562V-540ZM337 -843C287 -742 191 -620 56 -529C74 -518 99 -492 112 -474C140 -494 166 -515 190 -537V-358C190 -234 177 -77 66 34C82 44 111 73 123 88C190 22 227 -64 246 -151H486V58H562V-151H799V-18C799 -2 793 3 776 3C759 4 698 5 636 2C646 23 659 56 663 77C745 77 800 76 833 63C865 51 875 28 875 -17V-608H635C673 -650 711 -698 736 -742L685 -778L673 -774H389L420 -827ZM266 -348H486V-218H258C264 -263 266 -308 266 -348ZM799 -348V-218H562V-348Z","跌":"M152 -732H317V-556H152ZM35 -42 53 29C151 2 281 -35 406 -71L396 -136L287 -107V-285H392V-351H287V-491H387V-797H86V-491H219V-89L149 -70V-396H87V-55ZM646 -835V-660H544C553 -701 561 -744 567 -788L497 -799C481 -681 453 -563 405 -486C423 -477 453 -459 467 -448C490 -488 509 -537 525 -591H646V-515C646 -476 645 -433 641 -390H414V-319H632C607 -193 543 -66 374 27C392 41 416 67 426 83C573 -3 646 -115 683 -230C731 -92 805 16 916 76C927 56 950 29 968 14C845 -43 765 -168 723 -319H947V-390H714C718 -433 719 -474 719 -514V-591H928V-660H719V-835Z","轧":"M597 -823V-60C597 37 629 55 710 55H829C931 55 943 -2 953 -211C933 -217 902 -232 884 -249C877 -60 873 -14 826 -14H720C682 -14 670 -18 670 -69V-823ZM95 -332C104 -340 136 -346 178 -346H296V-203C198 -189 108 -177 39 -168L56 -92L296 -130V81H369V-142L527 -168L524 -237L369 -214V-346H525V-414H369V-562H296V-414H166C197 -483 227 -565 253 -651H527V-722H274C284 -756 292 -791 300 -825L223 -841C216 -802 208 -761 198 -722H47V-651H179C156 -571 132 -506 121 -481C103 -437 89 -405 71 -400C79 -381 91 -347 95 -332Z","邯":"M418 -835V-667H191V-835H119V-667H40V-595H119V60H191V-30H418V50H490V-595H567V-667H490V-835ZM191 -595H418V-391H191ZM191 -321H418V-102H191ZM683 -136V-716H857C821 -637 771 -532 723 -448C837 -359 874 -285 874 -222C874 -187 866 -157 840 -145C825 -138 806 -134 786 -134C759 -132 722 -132 683 -136ZM609 -787V80H683V-134C695 -113 704 -82 706 -63C742 -60 786 -60 819 -63C846 -66 873 -73 891 -85C931 -109 947 -156 947 -216C947 -286 918 -364 804 -458C856 -551 915 -662 960 -754L905 -790L893 -787Z","郑":"M138 -807C172 -762 208 -699 223 -657L289 -689C273 -730 237 -789 200 -833ZM449 -834C431 -780 396 -703 366 -650H85V-580H293V-512C293 -476 293 -434 287 -388H51V-319H276C251 -206 191 -78 42 30C62 42 87 64 99 79C212 -9 278 -106 315 -201C390 -130 469 -43 508 15L565 -33C519 -98 422 -197 339 -271L350 -319H585V-388H360C365 -433 366 -475 366 -511V-580H559V-650H441C469 -698 500 -759 526 -813ZM614 -788V80H687V-717H868C836 -637 792 -529 750 -444C852 -356 880 -281 881 -218C881 -181 874 -152 852 -139C840 -132 826 -128 809 -127C789 -126 761 -126 731 -129C744 -108 751 -76 752 -55C781 -54 814 -53 839 -56C864 -60 887 -67 905 -78C940 -102 954 -149 954 -210C954 -281 929 -361 828 -454C874 -545 927 -661 967 -756L912 -791L900 -788Z","郸":"M130 -804C168 -756 207 -689 223 -645L282 -676C264 -719 225 -783 186 -830ZM639 -786V77H704V-715H854C826 -637 786 -532 748 -448C840 -358 866 -284 866 -221C867 -187 860 -155 839 -143C828 -136 813 -133 797 -132C776 -132 748 -132 717 -135C729 -114 736 -83 738 -64C768 -62 801 -62 827 -65C851 -68 873 -74 889 -85C923 -108 936 -156 936 -215C936 -284 914 -363 823 -458C865 -551 913 -665 949 -757L897 -790L885 -787L871 -786ZM157 -413H286V-318H157ZM356 -413H489V-318H356ZM157 -565H286V-471H157ZM356 -565H489V-471H356ZM453 -836C431 -773 389 -686 354 -627H93V-257H286V-173H41V-106H286V81H356V-106H590V-173H356V-257H554V-627H427C459 -681 494 -751 522 -813Z","重":"M159 -540V-229H459V-160H127V-100H459V-13H52V48H949V-13H534V-100H886V-160H534V-229H848V-540H534V-601H944V-663H534V-740C651 -749 761 -761 847 -776L807 -834C649 -806 366 -787 133 -781C140 -766 148 -739 149 -722C247 -724 354 -728 459 -734V-663H58V-601H459V-540ZM232 -360H459V-284H232ZM534 -360H772V-284H534ZM232 -486H459V-411H232ZM534 -486H772V-411H534Z","钢":"M173 -837C143 -744 91 -654 32 -595C44 -579 64 -541 71 -525C105 -560 138 -605 166 -654H396V-726H204C218 -756 230 -787 241 -818ZM193 73C208 57 235 42 402 -45C397 -60 391 -89 389 -109L271 -52V-275H406V-344H271V-479H383V-547H111V-479H200V-344H60V-275H200V-56C200 -17 178 0 161 8C173 24 188 55 193 73ZM430 -787V79H500V-720H858V-20C858 -5 852 0 838 0C824 0 777 1 725 -1C735 17 746 48 749 66C821 66 864 65 891 53C918 41 928 21 928 -19V-787ZM751 -683C731 -602 708 -521 681 -443C647 -505 611 -566 577 -622L524 -594C566 -524 611 -443 651 -363C609 -254 559 -155 505 -79C521 -70 550 -52 561 -42C607 -111 650 -195 688 -288C722 -218 751 -151 770 -97L827 -128C804 -195 765 -280 720 -368C756 -465 787 -568 814 -671Z","销":"M438 -777C477 -719 518 -641 533 -592L596 -624C579 -674 537 -749 497 -805ZM887 -812C862 -753 817 -671 783 -622L840 -595C875 -643 919 -717 953 -783ZM178 -837C148 -745 97 -657 37 -597C50 -582 69 -545 75 -530C107 -563 137 -604 164 -649H410V-720H203C218 -752 232 -785 243 -818ZM62 -344V-275H206V-77C206 -34 175 -6 158 4C170 19 188 50 194 67C209 51 236 34 404 -60C399 -75 392 -104 390 -124L275 -64V-275H415V-344H275V-479H393V-547H106V-479H206V-344ZM520 -312H855V-203H520ZM520 -377V-484H855V-377ZM656 -841V-554H452V80H520V-139H855V-15C855 -1 850 3 836 3C821 4 770 4 714 3C725 21 734 52 737 71C813 71 860 71 887 58C915 47 924 25 924 -14V-555L855 -554H726V-841Z"},"b":{"今":"M381 -508C435 -466 505 -409 549 -365H155V-242H667C599 -154 514 -48 440 38L565 95C672 -38 798 -200 886 -326L791 -371L770 -365H595L656 -428C613 -472 522 -538 460 -583ZM480 -861C381 -705 201 -576 25 -500C60 -470 98 -423 118 -389C258 -462 396 -562 507 -686C615 -573 757 -466 881 -400C902 -434 944 -485 975 -511C838 -569 678 -674 579 -775L600 -805Z","日":"M277 -335H723V-109H277ZM277 -453V-668H723V-453ZM154 -789V78H277V12H723V76H852V-789Z","报":"M535 -358C568 -263 610 -177 664 -104C626 -66 581 -34 529 -7V-358ZM649 -358H805C790 -300 768 -247 738 -199C702 -247 672 -301 649 -358ZM410 -814V86H529V22C552 43 575 71 589 93C647 63 697 27 741 -16C785 26 835 62 892 89C911 57 947 10 975 -14C917 -37 865 -70 819 -111C882 -203 923 -316 943 -446L866 -469L845 -465H529V-703H793C789 -644 784 -616 774 -606C765 -597 754 -596 735 -596C713 -596 658 -597 600 -602C616 -576 630 -534 631 -504C693 -502 753 -501 787 -504C824 -507 855 -514 879 -540C902 -566 913 -629 917 -770C918 -784 919 -814 919 -814ZM164 -850V-659H37V-543H164V-373C112 -360 64 -350 24 -342L50 -219L164 -248V-46C164 -29 158 -25 141 -24C126 -24 76 -24 29 -26C45 7 61 57 66 88C145 89 199 86 237 67C274 48 286 17 286 -45V-280L392 -309L377 -426L286 -403V-543H382V-659H286V-850Z","价":"M700 -446V88H824V-446ZM426 -444V-307C426 -221 415 -78 288 14C318 34 358 72 377 98C524 -19 548 -187 548 -306V-444ZM246 -849C196 -706 112 -563 24 -473C44 -443 77 -378 88 -348C106 -368 124 -389 142 -413V89H263V-479C286 -455 313 -417 324 -391C461 -468 558 -567 627 -675C700 -564 795 -466 897 -404C916 -434 954 -479 980 -501C865 -561 751 -671 685 -785L705 -831L579 -852C533 -724 437 -589 263 -496V-602C300 -671 333 -743 359 -814Z"}};
(function(){
var NS=document.querySelector('svg').namespaceURI,re=/[\u3400-\u9fff]/;
var walker=document.createTreeWalker(document.body,NodeFilter.SHOW_TEXT,null),nodes=[],n;
while((n=walker.nextNode()))if(re.test(n.nodeValue)&&n.parentNode.nodeName!='SCRIPT')nodes.push(n);
nodes.forEach(function(t){
  var p=t.parentNode,cs=getComputedStyle(p),bold=parseInt(cs.fontWeight)>=600,ls=parseFloat(cs.letterSpacing)||0,fs=parseFloat(cs.fontSize),aw=Math.round(fs),gw=parseFloat(cs.getPropertyValue('--gw'));if(gw){aw=gw;ls=0;}
  var span=document.createElement('span'),buf='';
  function flush(){if(buf){span.appendChild(document.createTextNode(buf));buf='';}}
  for(var i=0;i<t.nodeValue.length;i++){
    var ch=t.nodeValue[i],d=(bold&&G.b[ch])||G.r[ch];
    if(d){flush();var sv=document.createElementNS(NS,'svg');sv.setAttribute('viewBox','0 -880 1000 1000');sv.setAttribute('aria-label',ch);sv.setAttribute('preserveAspectRatio',gw?'none':'xMinYMid meet');
      sv.style.cssText='width:'+aw+'px;height:1em;vertical-align:-0.16em;fill:currentColor;overflow:visible'+(ls?';margin-right:'+ls+'px':'');
      var pa=document.createElementNS(NS,'path');pa.setAttribute('d',d);sv.appendChild(pa);span.appendChild(sv);}
    else buf+=ch;
  }
  flush();p.replaceChild(span,t);
});
})();
</script>
</body></html>
